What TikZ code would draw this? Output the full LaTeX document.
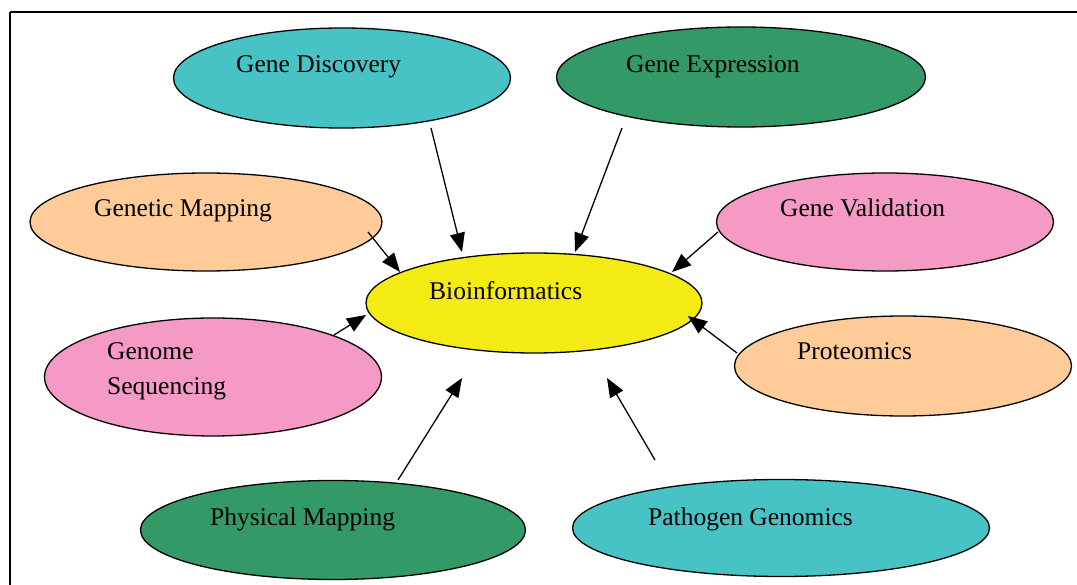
\documentclass[tikz,border=0pt]{standalone}
\usepackage{fontspec}
\setmainfont{Liberation Serif}
\usetikzlibrary{shapes.geometric,arrows.meta}
\definecolor{cteal}{HTML}{48C3C5}
\definecolor{cgreen}{HTML}{339966}
\definecolor{cpeach}{HTML}{FFCC99}
\definecolor{cpink}{HTML}{F49AC4}
\definecolor{cyellow}{HTML}{F5EB14}
\tikzset{
  bubble/.style={ellipse, draw=black, line width=1.3pt, inner sep=0pt},
  lbl/.style={anchor=base west, inner sep=0pt, font=\fontsize{25.5}{30}\selectfont},
  conn/.style={line width=1.3pt, -{Triangle[length=19pt,width=15pt]}}
}
\begin{document}
\begin{tikzpicture}[x=1pt,y=-1pt]
\useasboundingbox (0,0) rectangle (1077,585);
\draw[line width=1.3pt] (10,12) -- (1090,12);
\draw[line width=1.3pt] (10,12) -- (10,600);
% ellipses
\node[bubble, fill=cteal, minimum width=337pt, minimum height=100pt] (gd) at (342,78) {};
\node[bubble, fill=cgreen, minimum width=369pt, minimum height=100pt] (ge) at (741,77) {};
\node[bubble, fill=cpeach, minimum width=352pt, minimum height=98pt] (gm) at (206,222) {};
\node[bubble, fill=cpink, minimum width=337pt, minimum height=98pt] (gv) at (885,222) {};
\node[bubble, fill=cyellow, minimum width=336pt, minimum height=100pt] (bio) at (534,303) {};
\node[bubble, fill=cpink, minimum width=337pt, minimum height=118pt] (gs) at (213,377) {};
\node[bubble, fill=cpeach, minimum width=337pt, minimum height=100pt] (pr) at (903,366) {};
\node[bubble, fill=cgreen, minimum width=385pt, minimum height=99pt] (pm) at (333,530) {};
\node[bubble, fill=cteal, minimum width=417pt, minimum height=97pt] (pg) at (781,528) {};
% labels
\node[lbl] (tgd) at (236,73) {Gene Discovery};
\node[lbl] (tge) at (626,73) {Gene Expression};
\node[lbl] (tgm) at (94,217) {Genetic Mapping};
\node[lbl] (tgv) at (780,217) {Gene Validation};
\node[lbl] (tbio) at (429,300) {Bioinformatics};
\node[lbl] (tgs1) at (107,360) {Genome};
\node[lbl] (tgs2) at (107,395) {Sequencing};
\node[lbl] (tpr) at (797,360) {Proteomics};
\node[lbl] (tpm) at (210,525) {Physical Mapping};
\node[lbl] (tpg) at (648,525) {Pathogen Genomics};
% connector endpoints
\coordinate (a1) at (431,128); \coordinate (b1) at (462,252);
\coordinate (a2) at (622,128); \coordinate (b2) at (575,252);
\coordinate (a3) at (368,232); \coordinate (b3) at (400,272);
\coordinate (a4) at (718,232); \coordinate (b4) at (672,272);
\coordinate (a5) at (334,335); \coordinate (b5) at (366,315);
\coordinate (a6) at (737,353); \coordinate (b6) at (688,316);
\coordinate (a7) at (398,480); \coordinate (b7) at (462,378);
\coordinate (a8) at (655,460); \coordinate (b8) at (607,378);
\foreach \i in {1,...,8} { \draw[conn] (a\i) -- (b\i); }
\end{tikzpicture}
\end{document}
